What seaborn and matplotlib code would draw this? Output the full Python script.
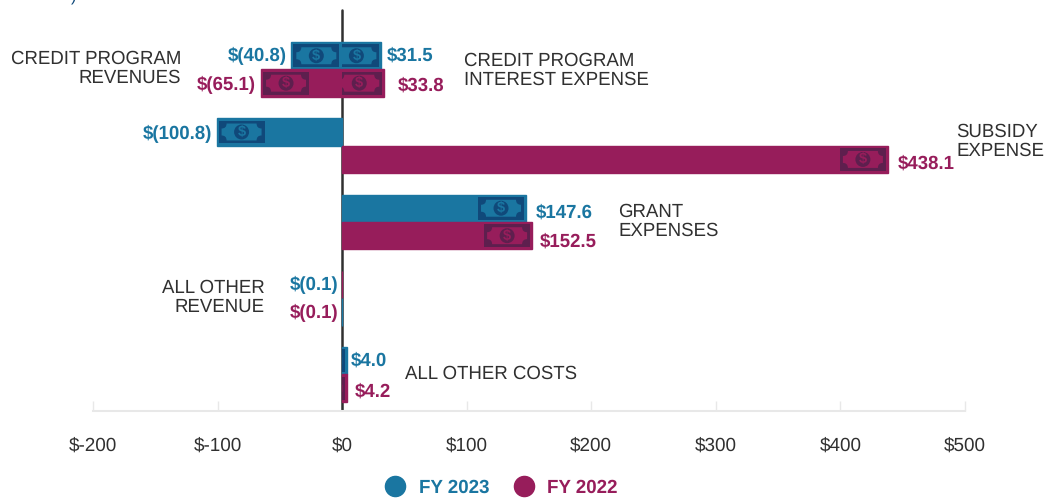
import pandas as pd
import matplotlib.pyplot as plt
import seaborn as sns
from matplotlib.lines import Line2D
from matplotlib.patches import Circle, PathPatch, Rectangle
from matplotlib.path import Path
from matplotlib.transforms import IdentityTransform

categories = ["Credit", "Subsidy", "Grant", "Other revenue", "Other costs"]
fy2023 = [-40.8, -100.8, 147.6, -0.1, 4.0]
fy2022 = [-65.1, 438.1, 152.5, -0.1, 4.2]
credit_interest = [31.5, 33.8]
labels_2023 = ["$(40.8)", "$(100.8)", "$147.6", "$(0.1)", "$4.0"]
labels_2022 = ["$(65.1)", "$438.1", "$152.5", "$(0.1)", "$4.2"]
credit_labels = ["$31.5", "$33.8"]
x_ticks = [-200, -100, 0, 100, 200, 300, 400, 500]
x_ticklabels = ["$-200", "$-100", "$0", "$100", "$200", "$300", "$400", "$500"]

BLUE = "#1a76a1"
MAROON = "#971d5b"
DARK_BLUE = "#10497a"
DARK_MAROON = "#5e1f4e"
TEXT = "#303030"
W, H = 1045, 498

sns.set_theme(style="white")
plt.rcParams["font.family"] = ["Liberation Sans", "DejaVu Sans"]
plt.rcParams["text.hinting"] = "no_hinting"
plt.rcParams["text.hinting_factor"] = 8

df = pd.DataFrame({
    "category": categories * 2,
    "value": fy2023 + fy2022,
    "year": ["FY 2023"] * 5 + ["FY 2022"] * 5,
})

fig = plt.figure(figsize=(W / 100, H / 100), dpi=100)
ax = fig.add_axes([93 / W, (H - 411) / H, 872 / W, 411 / H])

sns.barplot(data=df, y="category", x="value", hue="year", order=categories,
            hue_order=["FY 2023", "FY 2022"], palette=[BLUE, MAROON],
            width=0.72, gap=0, legend=False, saturation=1, ax=ax, zorder=3)

# the second side of the credit row (interest expense), on the same categories
credit_df = pd.DataFrame({"category": ["Credit", "Credit"], "value": credit_interest,
                          "year": ["FY 2023", "FY 2022"]})
sns.barplot(data=credit_df, y="category", x="value", hue="year", order=categories,
            hue_order=["FY 2023", "FY 2022"], palette=[BLUE, MAROON],
            width=0.72, gap=0, legend=False, saturation=1, ax=ax, zorder=3)
ax.set_xlim(-200, 500)
ax.set_ylim(4.479, -0.911)
ax.set_xlabel("")
ax.set_ylabel("")
ax.set_yticks([])

for c in ax.containers:
    for bar in c:
        bar.set_edgecolor(bar.get_facecolor())
        bar.set_linewidth(1)

# all other revenue has the two colours the other way round in the original
blue_bar = ax.containers[0][3]
maroon_bar = ax.containers[1][3]
for bar, col in ((blue_bar, MAROON), (maroon_bar, BLUE)):
    bar.set_facecolor(col)
    bar.set_edgecolor(col)

for name in ["top", "left", "right"]:
    ax.spines[name].set_visible(False)
ax.spines["bottom"].set_color("#e8e8e8")
ax.spines["bottom"].set_linewidth(1.5)
ax.set_xticks(x_ticks)
ax.set_xticklabels(x_ticklabels, fontsize=13.6, color=TEXT)
ax.tick_params(axis="x", direction="in", length=7.5, width=1, color="#e8e8e8", pad=18.5, bottom=True)
ax.axvline(0, ymin=0, ymax=(411 - 10) / 411, color=TEXT, lw=1.8, zorder=2)


def money_icon(bar, dark):
    # banknote stuck to the outer end of a bar and clipped by it
    fig.canvas.draw()
    box = bar.get_window_extent()
    w, h = 46, box.height - 4.5
    if bar.get_width() < 0:
        x0 = box.x0 + 2
    else:
        x0 = box.x1 - 2 - w
    y0 = box.y0 + 2.25
    base = bar.get_facecolor()
    tr = IdentityTransform()
    parts = [Rectangle((x0, y0), w, h, fc=dark, ec="none", transform=tr)]
    n = 5
    a, b = x0 + 3, x0 + w - 3
    c, d = y0 + 3, y0 + h - 3
    verts = [(a + n, c), (b - n, c), (b - n, c + n), (b, c + n), (b, d - n), (b - n, d - n),
             (b - n, d), (a + n, d), (a + n, d - n), (a, d - n), (a, c + n), (a + n, c + n),
             (a + n, c)]
    codes = [Path.MOVETO, Path.LINETO, Path.CURVE3, Path.CURVE3, Path.LINETO, Path.CURVE3, Path.CURVE3,
             Path.LINETO, Path.CURVE3, Path.CURVE3, Path.LINETO, Path.CURVE3, Path.CURVE3]
    parts.append(PathPatch(Path(verts, codes), fc=base, ec="none", transform=tr))
    cx, cy = x0 + w / 2, y0 + h / 2
    parts.append(Circle((cx, cy), 7.5, fc=dark, ec="none", transform=tr))
    for p in parts:
        p.set_zorder(4)
        fig.add_artist(p)
        p.set_clip_path(bar.get_path(), bar.get_transform())
    # text ignores a path clip in agg, so it gets the box of the bar
    t = fig.text(cx, cy, "$", color=base, fontsize=10.5, fontweight="bold", ha="center", va="center",
                 transform=tr, zorder=5)
    t.set_clip_on(True)
    t.set_clip_box(box)


for bar in list(ax.containers[0]) + list(ax.containers[2]):
    if abs(bar.get_width()) > 1:
        money_icon(bar, DARK_BLUE)
for bar in list(ax.containers[1]) + list(ax.containers[3]):
    if abs(bar.get_width()) > 1:
        money_icon(bar, DARK_MAROON)


def value_label(bar, text, col, dx, dy):
    ha = "right" if bar.get_width() < 0 else "left"
    ax.annotate(text, (bar.get_width(), bar.get_y() + bar.get_height() / 2),
                xytext=(dx, dy), textcoords="offset pixels", ha=ha, va="center",
                color=col, fontsize=13.4, fontweight="bold", annotation_clip=False)


offsets_2023 = [(-5, 0), (-4, -2), (10, -4), (-4, 0), (4, 0)]
offsets_2022 = [(-5, -2), (10, -4), (8, -6), (-4, -1), (7, -3)]
for bar, text, off in zip(ax.containers[0], labels_2023, offsets_2023):
    value_label(bar, text, BLUE, *off)
for bar, text, off in zip(ax.containers[1], labels_2022, offsets_2022):
    value_label(bar, text, MAROON, *off)
value_label(ax.containers[2][0], credit_labels[0], BLUE, 5, 0)
value_label(ax.containers[3][0], credit_labels[1], MAROON, 14, -2)


def side_label(x, y, text, ha):
    fig.text(x / W, 1 - y / H, text, ha=ha, va="center", fontsize=13.4, color=TEXT,
             linespacing=1.1, multialignment=ha)


side_label(181, 68, "CREDIT PROGRAM\nREVENUES", "right")
side_label(464, 70, "CREDIT PROGRAM\nINTEREST EXPENSE", "left")
side_label(956, 141, "SUBSIDY\nEXPENSE", "left")
side_label(618.5, 221, "GRANT\nEXPENSES", "left")
side_label(265, 297, "ALL OTHER\nREVENUE", "right")
side_label(405, 374, "ALL OTHER COSTS", "left")

# tail of a line of text cut off by the top of the picture
fig.text(74 / W, 1.0, ")", color=DARK_BLUE, fontsize=12, ha="center", va="baseline")

handles = [Line2D([], [], linestyle="none", marker="o", markersize=14.5, color=BLUE, label="FY 2023"),
           Line2D([], [], linestyle="none", marker="o", markersize=14.5, color=MAROON, label="FY 2022")]
leg = fig.legend(handles=handles, loc="center", bbox_to_anchor=(497 / W, 1 - 488 / H), ncol=2, frameon=False,
                 prop={"size": 13.5, "weight": "bold"}, handletextpad=0.25, columnspacing=0.85,
                 labelcolor="linecolor")

fig.savefig("out.png", dpi=100)
